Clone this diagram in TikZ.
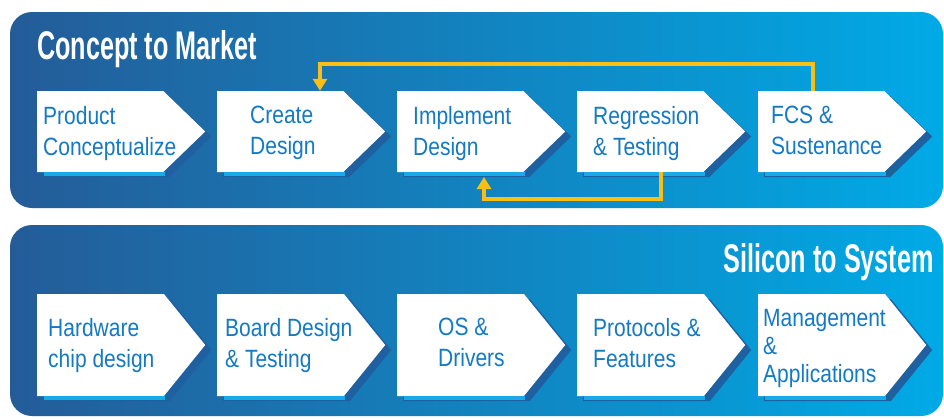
\documentclass[tikz,border=0pt]{standalone}
\usepackage{fontspec}
\setmainfont{Liberation Sans}
\newfontfamily\boxfont[FakeStretch=0.84]{Liberation Sans}
\newfontfamily\titlefont[FakeStretch=0.63]{Liberation Sans}
\usetikzlibrary{shapes.symbols,shadows,arrows.meta,calc}
\definecolor{panelL}{RGB}{36,92,152}
\definecolor{panelM}{RGB}{4,116,180}
\definecolor{panelR}{RGB}{0,170,230}
\definecolor{txtblue}{RGB}{20,122,196}
\definecolor{shadowblue}{RGB}{30,96,160}
\definecolor{stripblue}{RGB}{26,170,236}
\definecolor{loopyellow}{RGB}{250,190,20}
\begin{document}
\begin{tikzpicture}[x=1pt,y=-1pt,
 chev/.style={signal, signal to=east, fill=white, inner sep=0pt, minimum width=168pt, anchor=west,
   general shadow={fill=shadowblue, shadow xshift=6pt, shadow yshift=-5pt}},
 toprow/.style={chev, minimum height=81pt, signal pointer angle=88},
 botrow/.style={chev, minimum height=102pt, signal pointer angle=102},
 lbl/.style={anchor=west, align=left, text=txtblue, text depth=0pt, font=\boxfont\fontsize{25}{31}\selectfont, inner sep=0pt},
 title/.style={text=white, font=\titlefont\bfseries\fontsize{40}{44}\selectfont, inner sep=0pt},
 loopline/.style={draw=loopyellow, line width=4pt, -{Triangle[width=14pt,length=12pt]}},
 panel/.style={left color=panelL, middle color=panelM, right color=panelR, rounded corners=22pt},
]
\useasboundingbox (0,0) rectangle (944,418);
\fill[white] (0,0) rectangle (944,418);
% panels
\shade[panel] (10,12) rectangle (943,208);
\shade[panel] (10,225) rectangle (943,416);
% titles
\node[title, anchor=base west] (t1) at (37,59) {Concept to Market};
\node[title, anchor=base east] (t2) at (934,272) {Silicon to System};
% top row chevrons
\foreach \i/\x in {1/37,2/217,3/397,4/577,5/758}{
  \node[toprow] (c\i) at (\x,131.5) {};
  \fill[stripblue] (\x+7,172) rectangle (\x+128,176);
}
% bottom row chevrons
\foreach \i/\x in {1/37,2/217,3/397,4/577,5/758}{
  \node[botrow] (b\i) at (\x,345) {};
  \fill[stripblue] (\x+7,396) rectangle (\x+128,400);
}
% top labels
\node[lbl] (l1) at (43,130.5) {Product\\Conceptualize};
\node[lbl] (l2) at (250,130.5) {Create\\Design};
\node[lbl] (l3) at (413,130.5) {Implement\\Design};
\node[lbl] (l4) at (593,130.5) {Regression\\\& Testing};
\node[lbl] (l5) at (771,130.5) {FCS \&\\Sustenance};
% bottom labels
\node[lbl] (m1) at (48,342.5) {Hardware\\chip design};
\node[lbl] (m2) at (225,342.5) {Board Design\\\& Testing};
\node[lbl] (m3) at (438,342.5) {OS \&\\Drivers};
\node[lbl] (m4) at (593,342.5) {Protocols \&\\Features};
\node[lbl, font=\boxfont\fontsize{25}{28}\selectfont] (m5) at (763,346) {Management\\\&\\Applications};
% feedback loops
\draw[loopline] (813,0 |- c5.north) -- (813,64) -| (320,0 |- c2.north);
\draw[loopline] (661,0 |- c4.south) -- (661,199) -| (484,177);
\end{tikzpicture}
\end{document}
